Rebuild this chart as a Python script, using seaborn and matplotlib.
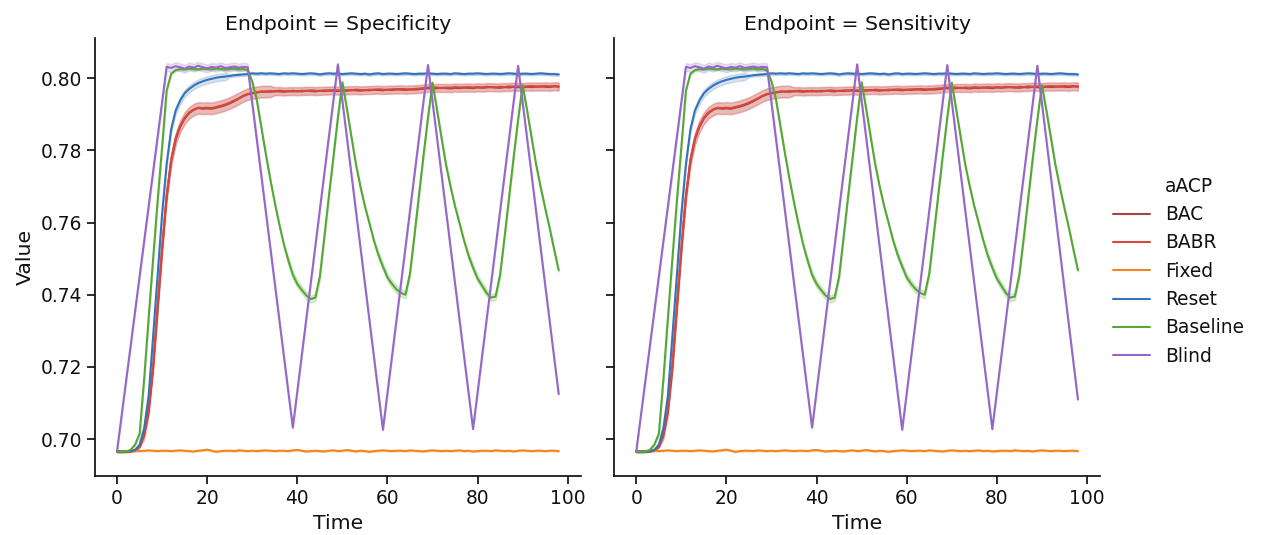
import matplotlib
matplotlib.use("Agg")
import matplotlib.pyplot as plt
from matplotlib.lines import Line2D
import numpy as np
import pandas as pd
import seaborn as sns

# ------------------------------------------------------------------
#  Data
# ------------------------------------------------------------------
ENDPOINTS = ["Specificity", "Sensitivity"]
SERIES = ["BAC", "BABR", "Fixed", "Reset", "Baseline", "Blind"]
PALETTE = {
    "BAC": "#a8443f",
    "BABR": "#d9473c",
    "Fixed": "#f28522",
    "Reset": "#3573b9",
    "Baseline": "#55a736",
    "Blind": "#9467c8",
}

TIME = list(range(99))

FIXED_V = [
    0.6967, 0.6966, 0.6967, 0.6968, 0.6968, 0.6967, 0.6968, 0.6969, 0.6968, 0.6967,
    0.6968, 0.6968, 0.6967, 0.6968, 0.6969, 0.6968, 0.6967, 0.6966, 0.6968, 0.6969,
    0.6971, 0.6968, 0.6965, 0.6967, 0.6968, 0.6968, 0.6967, 0.6969, 0.6968, 0.6967,
    0.6968, 0.6967, 0.6968, 0.6969, 0.6968, 0.6967, 0.6968, 0.6968, 0.6967, 0.6969,
    0.6970, 0.6968, 0.6966, 0.6967, 0.6968, 0.6967, 0.6966, 0.6968, 0.6969, 0.6967,
    0.6968, 0.6970, 0.6968, 0.6966, 0.6968, 0.6967, 0.6965, 0.6967, 0.6968, 0.6969,
    0.6968, 0.6967, 0.6968, 0.6968, 0.6967, 0.6969, 0.6968, 0.6967, 0.6966, 0.6968,
    0.6969, 0.6968, 0.6967, 0.6968, 0.6967, 0.6968, 0.6969, 0.6967, 0.6968, 0.6966,
    0.6967, 0.6968, 0.6968, 0.6967, 0.6969, 0.6968, 0.6967, 0.6968, 0.6966, 0.6968,
    0.6969, 0.6968, 0.6967, 0.6968, 0.6968, 0.6967, 0.6968, 0.6968, 0.6967,
]

BASELINE_V = [
    0.6966, 0.6965, 0.6966, 0.6970, 0.6985, 0.7015, 0.7165, 0.7335, 0.7500, 0.7660,
    0.7810, 0.7965, 0.8012, 0.8022, 0.8025, 0.8024, 0.8026, 0.8025, 0.8024, 0.8026,
    0.8025, 0.8024, 0.8026, 0.8025, 0.8024, 0.8025, 0.8026, 0.8024, 0.8025, 0.8022,
    0.7990, 0.7940, 0.7865, 0.7790, 0.7720, 0.7655, 0.7595, 0.7540, 0.7495, 0.7455,
    0.7430, 0.7413, 0.7398, 0.7388, 0.7392, 0.7450, 0.7560, 0.7672, 0.7780, 0.7890,
    0.7988, 0.7915, 0.7838, 0.7762, 0.7700, 0.7645, 0.7598, 0.7550, 0.7510, 0.7478,
    0.7448, 0.7430, 0.7415, 0.7405, 0.7400, 0.7458, 0.7565, 0.7675, 0.7785, 0.7890,
    0.7987, 0.7912, 0.7835, 0.7760, 0.7700, 0.7645, 0.7598, 0.7550, 0.7508, 0.7475,
    0.7445, 0.7425, 0.7405, 0.7392, 0.7395, 0.7455, 0.7560, 0.7670, 0.7780, 0.7885,
    0.7980, 0.7910, 0.7835, 0.7760, 0.7698, 0.7640, 0.7585, 0.7525, 0.7468,
]

RESET_V = [
    0.6966, 0.6966, 0.6966, 0.6967, 0.6970, 0.6985, 0.7030, 0.7120, 0.7285, 0.7455,
    0.7625, 0.7762, 0.7858, 0.7910, 0.7938, 0.7958, 0.7970, 0.7979, 0.7986, 0.7991,
    0.7995, 0.7998, 0.8001, 0.8003, 0.8004, 0.8006, 0.8008, 0.8009, 0.8010, 0.8011,
    0.8013, 0.8012, 0.8013, 0.8012, 0.8013, 0.8012, 0.8011, 0.8013, 0.8012, 0.8013,
    0.8012, 0.8011, 0.8012, 0.8013, 0.8012, 0.8010, 0.8012, 0.8013, 0.8012, 0.8012,
    0.8011, 0.8012, 0.8013, 0.8012, 0.8011, 0.8012, 0.8010, 0.8012, 0.8013, 0.8011,
    0.8012, 0.8012, 0.8011, 0.8012, 0.8013, 0.8012, 0.8011, 0.8012, 0.8012, 0.8013,
    0.8012, 0.8011, 0.8012, 0.8012, 0.8011, 0.8013, 0.8012, 0.8011, 0.8012, 0.8012,
    0.8013, 0.8012, 0.8011, 0.8012, 0.8012, 0.8011, 0.8012, 0.8013, 0.8012, 0.8011,
    0.8012, 0.8012, 0.8011, 0.8012, 0.8013, 0.8012, 0.8011, 0.8011, 0.8010,
]

BAC_V = [
    0.6965, 0.6965, 0.6966, 0.6966, 0.6968, 0.6978, 0.7010, 0.7075, 0.7195, 0.7360,
    0.7525, 0.7670, 0.7770, 0.7830, 0.7865, 0.7888, 0.7903, 0.7912, 0.7917, 0.7915,
    0.7916, 0.7915, 0.7918, 0.7921, 0.7925, 0.7930, 0.7936, 0.7943, 0.7950, 0.7955,
    0.7958, 0.7960, 0.7962, 0.7963, 0.7962, 0.7964, 0.7963, 0.7962, 0.7964, 0.7963,
    0.7964, 0.7963, 0.7965, 0.7964, 0.7963, 0.7965, 0.7964, 0.7966, 0.7965, 0.7964,
    0.7966, 0.7965, 0.7967, 0.7966, 0.7965, 0.7967, 0.7966, 0.7968, 0.7967, 0.7966,
    0.7968, 0.7967, 0.7969, 0.7968, 0.7967, 0.7969, 0.7968, 0.7969, 0.7971, 0.7972,
    0.7971, 0.7972, 0.7973, 0.7972, 0.7971, 0.7973, 0.7972, 0.7974, 0.7973, 0.7972,
    0.7974, 0.7973, 0.7974, 0.7975, 0.7974, 0.7973, 0.7975, 0.7974, 0.7976, 0.7975,
    0.7974, 0.7976, 0.7975, 0.7976, 0.7977, 0.7976, 0.7975, 0.7977, 0.7976,
]

BABR_V = [
    0.6965, 0.6966, 0.6966, 0.6967, 0.6969, 0.6980, 0.7015, 0.7082, 0.7205, 0.7370,
    0.7532, 0.7676, 0.7774, 0.7833, 0.7868, 0.7890, 0.7905, 0.7913, 0.7918, 0.7917,
    0.7918, 0.7917, 0.7920, 0.7923, 0.7927, 0.7932, 0.7938, 0.7944, 0.7951, 0.7956,
    0.7959, 0.7961, 0.7963, 0.7962, 0.7964, 0.7963, 0.7965, 0.7964, 0.7963, 0.7965,
    0.7963, 0.7965, 0.7964, 0.7966, 0.7965, 0.7964, 0.7966, 0.7965, 0.7967, 0.7966,
    0.7965, 0.7967, 0.7966, 0.7968, 0.7967, 0.7966, 0.7968, 0.7967, 0.7969, 0.7968,
    0.7967, 0.7969, 0.7968, 0.7970, 0.7969, 0.7968, 0.7970, 0.7971, 0.7972, 0.7974,
    0.7973, 0.7974, 0.7972, 0.7974, 0.7973, 0.7975, 0.7974, 0.7973, 0.7975, 0.7974,
    0.7975, 0.7974, 0.7976, 0.7975, 0.7974, 0.7976, 0.7975, 0.7977, 0.7976, 0.7977,
    0.7976, 0.7977, 0.7978, 0.7977, 0.7976, 0.7978, 0.7977, 0.7978, 0.7977,
]

# Blind is piecewise linear: ramp, noisy plateau, then saw-tooth
BLIND_T = [0] + list(range(11, 30)) + [39, 49, 59, 69, 79, 89, 98]
BLIND_V = [
    0.6968,
    0.8031, 0.8028, 0.8033, 0.8030, 0.8026, 0.8032, 0.8029, 0.8034, 0.8030, 0.8027,
    0.8031, 0.8029, 0.8033, 0.8028, 0.8030, 0.8032, 0.8029, 0.8031, 0.8030,
    0.7032, 0.8038, 0.7026, 0.8036, 0.7028, 0.8034, 0.7125,
]
BLIND_END_SENS = 0.7110

# half-width of the shaded band, as (start time, half-width) steps
BAND_STEPS = {
    "BAC": ([0, 6, 10, 35], [0.0002, 0.0012, 0.0016, 0.0011]),
    "BABR": ([0, 6, 10, 35], [0.0002, 0.0012, 0.0016, 0.0011]),
    "Fixed": ([0], [0.0002]),
    "Reset": ([0, 7, 25], [0.0002, 0.0010, 0.0004]),
    "Baseline": ([0, 38, 46, 58, 66, 78, 86], [0.0003, 0.0010, 0.0004, 0.0010, 0.0004, 0.0010, 0.0004]),
    "Blind": ([0, 11, 30], [0.0002, 0.0011, 0.0002]),
}


def series_for(endpoint):
    blind_v = BLIND_V if endpoint == "Specificity" else BLIND_V[:-1] + [BLIND_END_SENS]
    return {
        "BAC": (TIME, BAC_V),
        "BABR": (TIME, BABR_V),
        "Fixed": (TIME, FIXED_V),
        "Reset": (TIME, RESET_V),
        "Baseline": (TIME, BASELINE_V),
        "Blind": (BLIND_T, blind_v),
    }


# long table: each point stored as low / mid / high so that the
# seaborn min-max interval reproduces the shaded band
rows = []
for endpoint in ENDPOINTS:
    for name, (t, v) in series_for(endpoint).items():
        steps_t, steps_hw = BAND_STEPS[name]
        t = np.asarray(t)
        v = np.asarray(v)
        hw = np.asarray(steps_hw)[np.searchsorted(steps_t, t, side="right") - 1]
        for k in (-1, 0, 1):
            rows.append(pd.DataFrame({"Time": t, "Value": v + k * hw,
                                      "aACP": name, "Endpoint": endpoint}))
df = pd.concat(rows, ignore_index=True)

# ------------------------------------------------------------------
#  Plot
# ------------------------------------------------------------------
sns.set_theme(style="ticks", context="notebook", font_scale=1.22)
plt.rcParams["font.family"] = ["DejaVu Sans"]
for key in ["text.color", "axes.labelcolor", "xtick.color", "ytick.color", "axes.edgecolor"]:
    plt.rcParams[key] = "#111111"

g = sns.relplot(data=df, kind="line", x="Time", y="Value", hue="aACP",
                col="Endpoint", col_order=ENDPOINTS, hue_order=SERIES,
                palette=PALETTE, errorbar=("pi", 100), legend=False,
                height=4, aspect=1)

g.figure.set_size_inches(12.69, 5.35)
g.figure.subplots_adjust(left=95 / 1269, right=1100 / 1269,
                         bottom=1 - 476 / 535, top=1 - 38 / 535, wspace=0.069)
g.set(xlim=(-4.9, 102.9), ylim=(0.6898, 0.8111))

handles = [Line2D([], [], color="none")] + \
          [Line2D([], [], color=PALETTE[s], lw=1.5) for s in SERIES]
labels = ["aACP"] + SERIES
g.figure.legend(handles, labels, loc="center left",
                bbox_to_anchor=(1096 / 1269, 0.493), frameon=False,
                labelspacing=0.5)

g.figure.savefig("out.png", dpi=100)
